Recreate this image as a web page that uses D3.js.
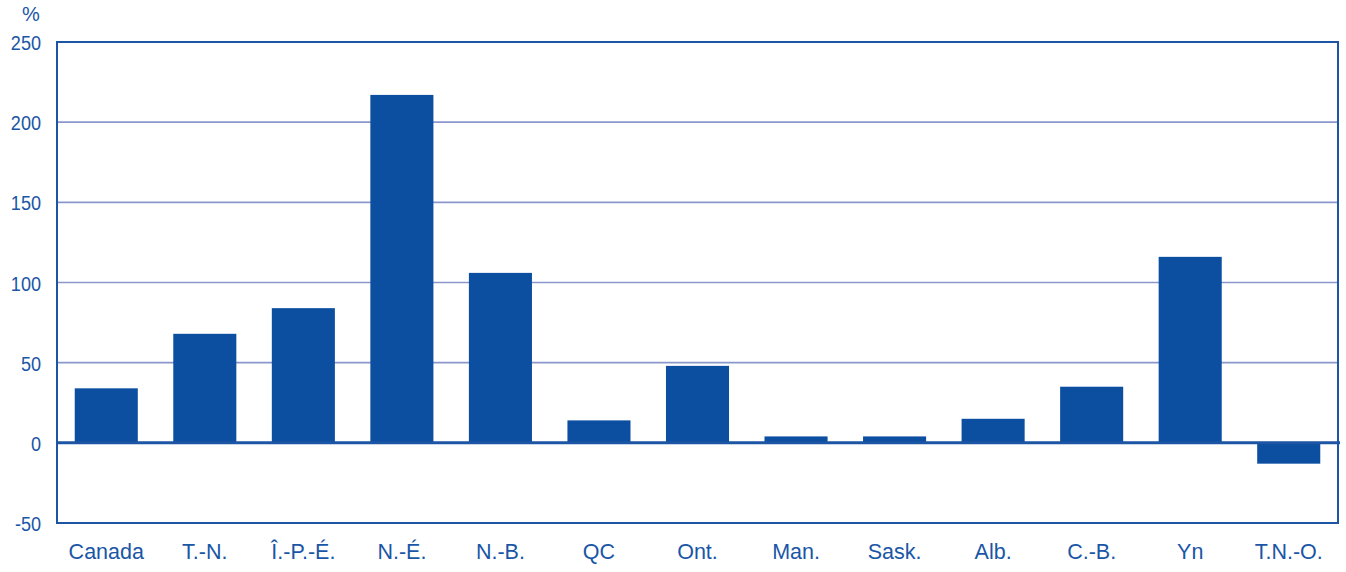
<!DOCTYPE html>
<html>
<head>
<meta charset="utf-8">
<script src="https://cdn.jsdelivr.net/npm/d3@7"></script>
<style>
  html, body { margin: 0; padding: 0; background: #fff; }
  svg { display: block; font-family: "Liberation Sans", Arial, sans-serif; }
</style>
</head>
<body>
<svg id="chart" width="1346" height="572"></svg>
<script>
// Percentage change by province / territory
const categories = ["Canada", "T.-N.", "Î.-P.-É.", "N.-É.", "N.-B.", "QC", "Ont.", "Man.", "Sask.", "Alb.", "C.-B.", "Yn", "T.N.-O."];
const values = [34, 68, 84, 217, 106, 14, 48, 4, 4, 15, 35, 116, -13];
const yTicks = [-50, 0, 50, 100, 150, 200, 250];

const svg = d3.select("#chart");
const margin = { left: 57, right: 8, top: 42, bottom: 49 };
const W = 1346, H = 572;

const x = d3.scaleBand()
  .domain(categories)
  .range([margin.left, W - margin.right])
  .paddingInner(0.36)
  .paddingOuter(0.18);

const y = d3.scaleLinear()
  .domain([-50, 250])
  .range([H - margin.bottom, margin.top]);

const textColor = "#1a56a6";
const barColor = "#0c4fa1";
const frameColor = "#1b55a3";
const gridColor = "#8a97cc";

// Horizontal gridlines
svg.append("g")
  .selectAll("line")
  .data(yTicks.filter(d => d !== 0 && d !== 250 && d !== -50))
  .join("line")
  .attr("x1", margin.left).attr("x2", W - margin.right)
  .attr("y1", d => y(d)).attr("y2", d => y(d))
  .attr("stroke", gridColor).attr("stroke-width", 1.6);

// Bars
svg.append("g")
  .selectAll("rect")
  .data(values)
  .join("rect")
  .attr("x", (d, i) => x(categories[i]))
  .attr("width", x.bandwidth())
  .attr("y", d => y(Math.max(0, d)))
  .attr("height", d => Math.abs(y(d) - y(0)))
  .attr("fill", barColor);

// Zero line
svg.append("line")
  .attr("x1", margin.left).attr("x2", W - margin.right + 2)
  .attr("y1", y(0)).attr("y2", y(0))
  .attr("stroke", frameColor).attr("stroke-width", 3);

// Plot frame
svg.append("rect")
  .attr("x", margin.left).attr("y", margin.top)
  .attr("width", W - margin.right - margin.left)
  .attr("height", y(-50) - margin.top)
  .attr("fill", "none")
  .attr("stroke", frameColor).attr("stroke-width", 2);

// Y axis labels (narrow digits, right-aligned)
const yAxis = d3.axisLeft(y).tickValues(yTicks).tickSize(0).tickPadding(0)
  .tickFormat(d => String(d));
const gy = svg.append("g")
  .attr("transform", `translate(${margin.left},0)`)
  .call(yAxis);
gy.select(".domain").remove();
gy.selectAll(".tick text")
  .attr("x", 0)
  .attr("dy", "0.36em")
  .attr("text-anchor", "end")
  .attr("transform", "translate(-16,0) scale(0.86,1)")
  .attr("fill", textColor)
  .style("font-size", "21px");

// X axis labels
const xAxis = d3.axisBottom(x).tickSize(0).tickPadding(21);
const gx = svg.append("g")
  .attr("transform", `translate(0,${y(-50)})`)
  .call(xAxis);
gx.select(".domain").remove();
gx.selectAll("text")
  .attr("fill", textColor)
  .style("font-size", "21.5px");

// Unit label
svg.append("text")
  .attr("x", 31).attr("y", 21)
  .attr("text-anchor", "middle")
  .attr("fill", textColor)
  .style("font-size", "20px")
  .text("%");
</script>
</body>
</html>
